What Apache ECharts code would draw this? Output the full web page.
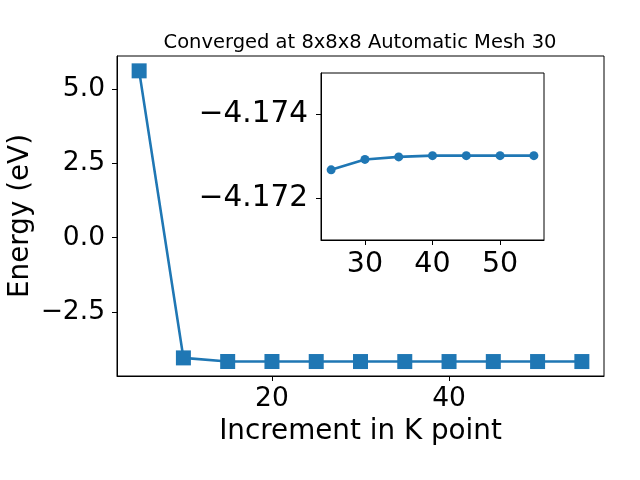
<!DOCTYPE html>
<html><head><meta charset="utf-8">
<script src="https://cdn.jsdelivr.net/npm/echarts@6/dist/echarts.min.js"></script>
<style>html,body{margin:0;padding:0;background:#fff}#c{width:640px;height:480px}</style>
</head><body><div id="c"></div>
<script>
const kPoints = [5, 10, 15, 20, 25, 30, 35, 40, 45, 50, 55];
const energies = [5.62, -4.05, -4.171, -4.172, -4.17268, -4.17293, -4.17299, -4.17302, -4.17302, -4.17302, -4.17302];
const insetK = [25, 30, 35, 40, 45, 50, 55];
const insetE = [-4.17268, -4.17293, -4.17299, -4.17302, -4.17302, -4.17302, -4.17302];
const mainXTicks = [20, 40];
const mainYTicks = [-2.5, 0, 2.5, 5.0];
const insetXTicks = [30, 40, 50];
const insetYTicks = [-4.174, -4.172];
const titleText = 'Converged at 8x8x8 Automatic Mesh 30';
const xName = 'Increment in K point';
const yName = 'Energy (eV)';

const F = 'DejaVu Sans';
const C = '#1f77b4';
const minus = s => s.replace('-', '\u2212');
const chart = echarts.init(document.getElementById('c'), null, {renderer: 'canvas'});
const axCommon = (ticks, fmt, size, margin, pad) => ({
  axisLine: {show: true, onZero: false, lineStyle: {color: '#000', width: 1}},
  axisTick: {show: true, length: 5, inside: false, lineStyle: {color: '#000', width: 1}, customValues: ticks},
  axisLabel: {show: true, color: '#000', fontFamily: F, fontSize: size, margin: margin, customValues: ticks,
    padding: pad || 0, formatter: v => minus(fmt(v))},
  splitLine: {show: false}
});
chart.setOption({
  animation: false,
  title: {text: titleText, left: 355, top: 28, textAlign: 'center',
    textStyle: {fontFamily: F, fontSize: 19.5, fontWeight: 'normal', color: '#000'}},
  grid: [
    {left: 117, right: 36, top: 56, bottom: 104, show: true, borderColor: '#000', borderWidth: 1, backgroundColor: '#fff', outerBoundsMode: 'none', containLabel: false},
    {left: 321, right: 96, top: 73, bottom: 240, show: true, borderColor: '#000', borderWidth: 1, backgroundColor: '#fff', z: 5, outerBoundsMode: 'none', containLabel: false}
  ],
  xAxis: [
    Object.assign({type: 'value', gridIndex: 0, min: 2.5, max: 57.5, name: xName, nameLocation: 'middle', nameGap: 40,
      nameTextStyle: {fontFamily: F, fontSize: 27.8, color: '#000'}}, axCommon(mainXTicks, v => String(v), 26.5, 10)),
    Object.assign({type: 'value', gridIndex: 1, min: 23.5, max: 56.5, z: 5}, axCommon(insetXTicks, v => String(v), 28.5, 10))
  ],
  yAxis: [
    Object.assign({type: 'value', gridIndex: 0, min: -4.66, max: 6.12, name: yName, nameLocation: 'middle', nameGap: 82, nameRotate: 90,
      nameMoveOverlap: false,
      nameTextStyle: {fontFamily: F, fontSize: 27.8, color: '#000'}}, axCommon(mainYTicks, v => v.toFixed(1), 26.5, 12, [5, 0, 0, 0])),
    Object.assign({type: 'value', gridIndex: 1, min: -4.175, max: -4.171, inverse: true, z: 5}, axCommon(insetYTicks, v => v.toFixed(3), 29.5, 13, [5, 0, 0, 0]))
  ],
  series: [
    {type: 'line', xAxisIndex: 0, yAxisIndex: 0, data: kPoints.map((k, i) => [k, energies[i]]),
      symbol: 'rect', symbolSize: 15, showAllSymbol: true,
      lineStyle: {color: C, width: 2.6}, itemStyle: {color: C}},
    {type: 'line', xAxisIndex: 1, yAxisIndex: 1, data: insetK.map((k, i) => [k, insetE[i]]), z: 6,
      symbol: 'circle', symbolSize: 9, showAllSymbol: true,
      lineStyle: {color: C, width: 2.6}, itemStyle: {color: C}}
  ]
});
</script></body></html>
